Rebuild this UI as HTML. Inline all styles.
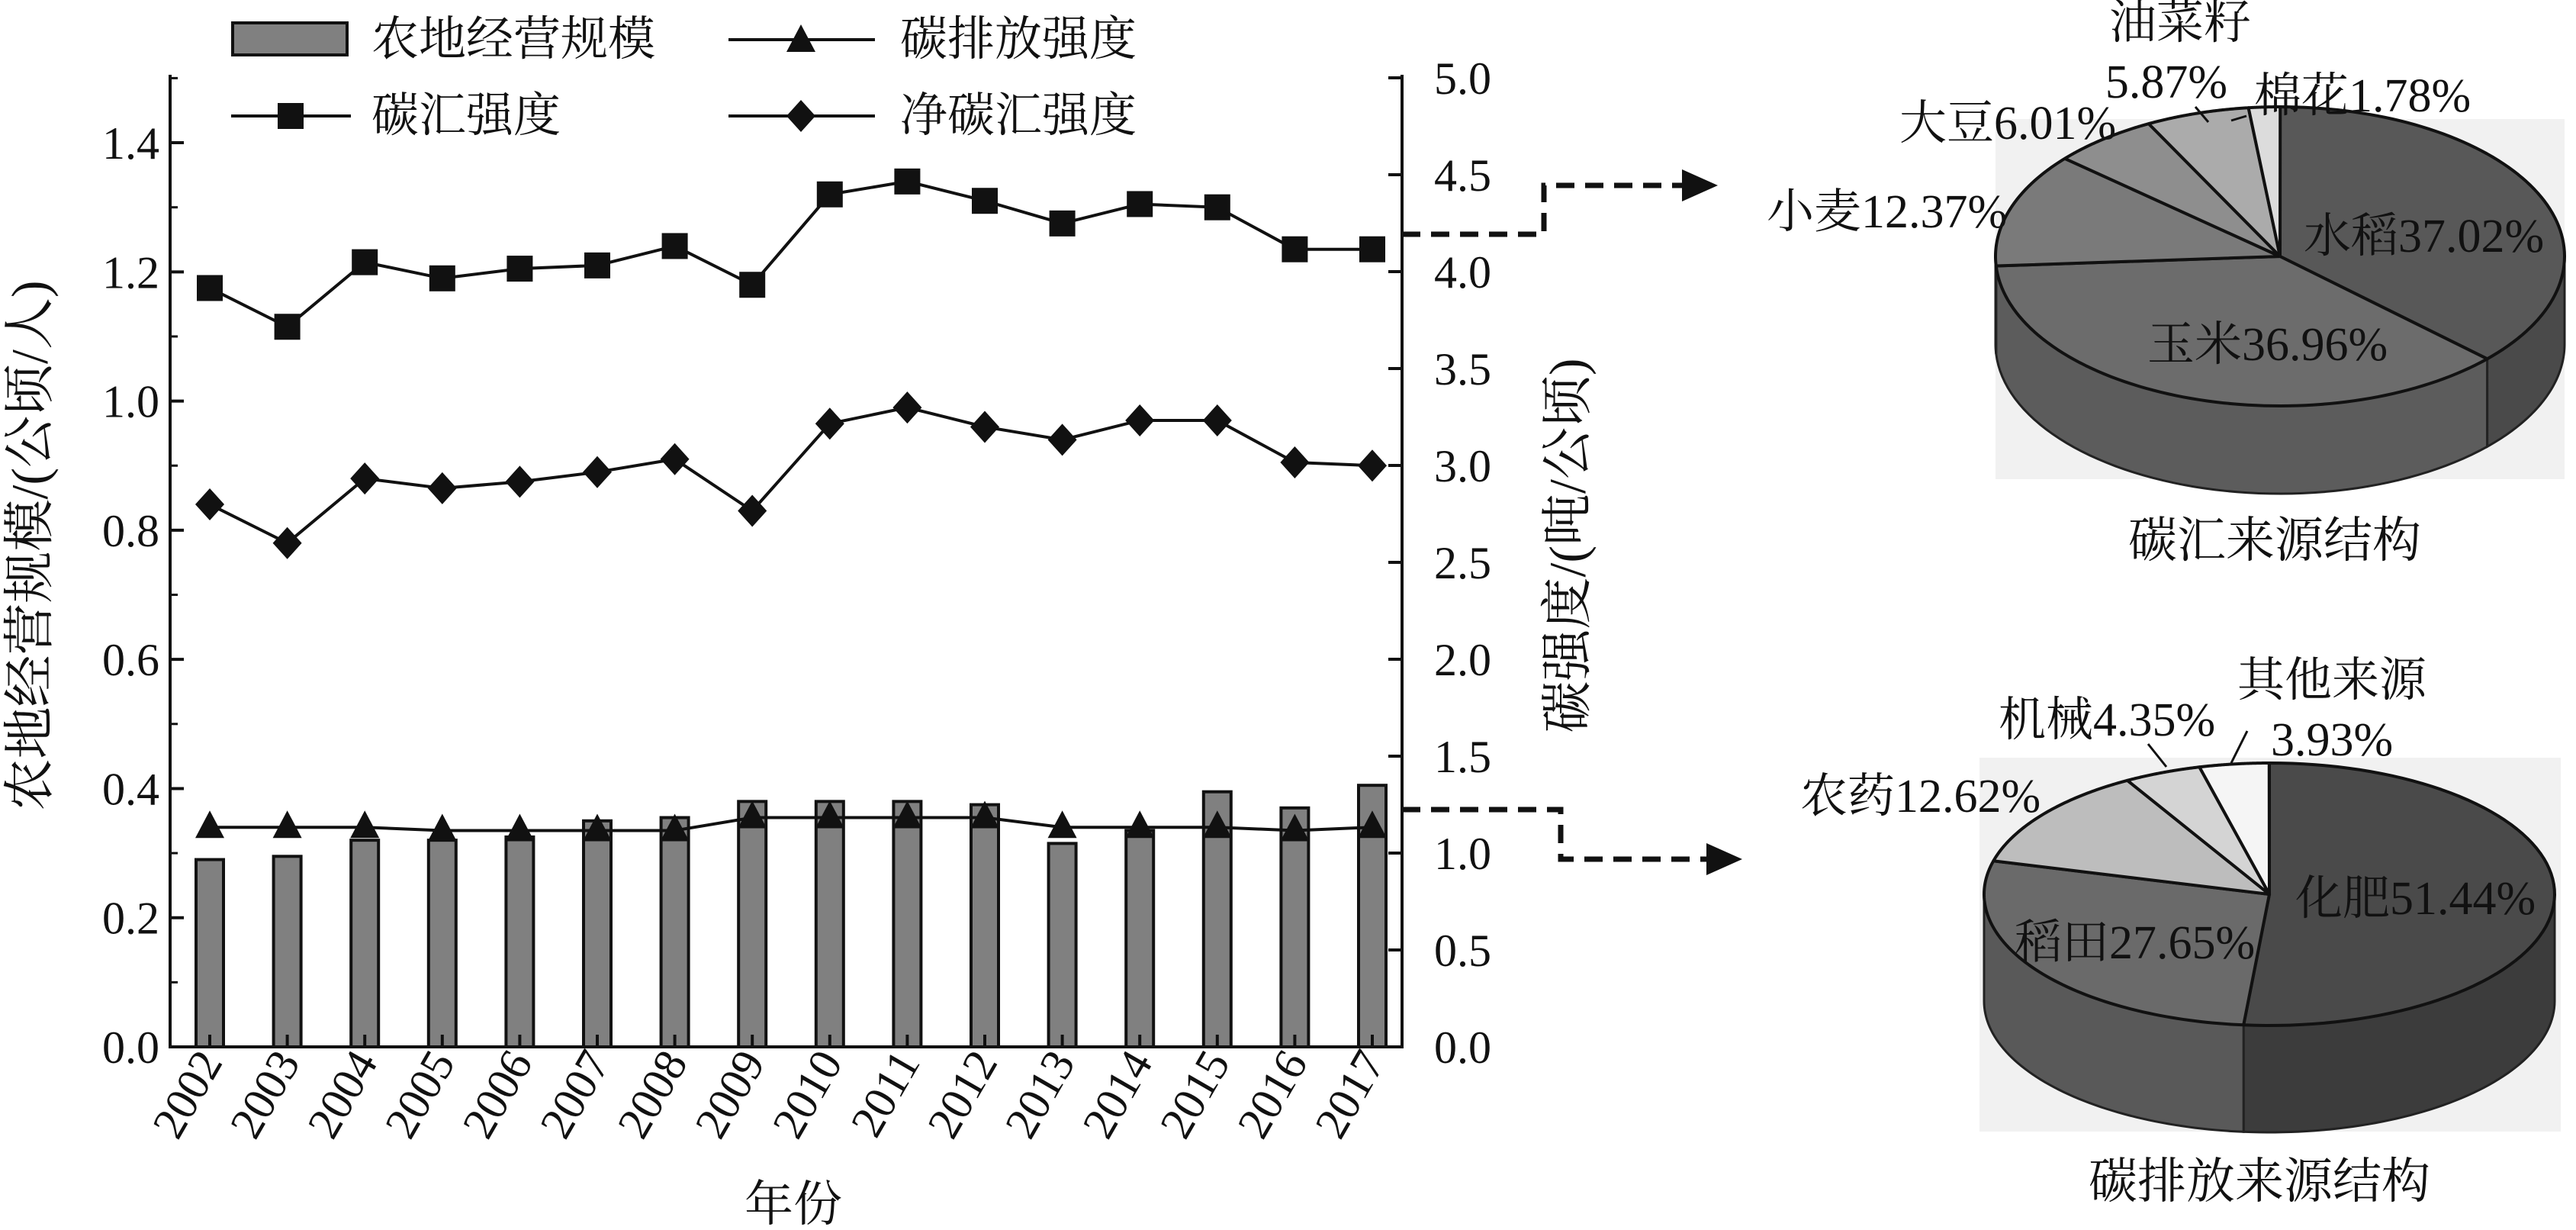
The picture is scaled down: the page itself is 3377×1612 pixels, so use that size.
<!DOCTYPE html>
<html><head><meta charset="utf-8"><style>
html,body{margin:0;padding:0;background:#fff}
svg{display:block}
text{font-family:"Liberation Serif","Noto Serif CJK SC","Noto Sans CJK SC",serif;fill:#111}
</style></head><body>
<svg id="s" width="3377" height="1612" viewBox="0 0 3377 1612" xmlns="http://www.w3.org/2000/svg">
<g id="chart"></g>
<g id="pies"></g>
<g font-size="62">
<text x="487" y="72">农地经营规模</text>
<text x="1180" y="72">碳排放强度</text>
<text x="487" y="172">碳汇强度</text>
<text x="1180" y="172">净碳汇强度</text>
<text x="1040" y="1600" text-anchor="middle" font-size="64">年份</text>
<text transform="translate(62,715) rotate(-90)" text-anchor="middle" font-size="68">农地经营规模/(公顷/人)</text>
<text transform="translate(2078,715) rotate(-90)" text-anchor="middle" font-size="68">碳强度/(吨/公顷)</text>
<text x="2858" y="50" text-anchor="middle">油菜籽</text>
<text x="2840" y="128" text-anchor="middle">5.87%</text>
<text x="2955" y="146">棉花1.78%</text>
<text x="2490" y="182">大豆6.01%</text>
<text x="2316" y="298">小麦12.37%</text>
<text x="3020" y="330">水稻37.02%</text>
<text x="2815" y="472">玉米36.96%</text>
<text x="2982" y="730" text-anchor="middle" font-size="64">碳汇来源结构</text>
<text x="2933" y="912">其他来源</text>
<text x="2977" y="990">3.93%</text>
<text x="2620" y="964">机械4.35%</text>
<text x="2360" y="1064">农药12.62%</text>
<text x="3009" y="1198">化肥51.44%</text>
<text x="2641" y="1256">稻田27.65%</text>
<text x="2962" y="1570" text-anchor="middle" font-size="64">碳排放来源结构</text>
</g>
</svg>
<script>
var NS="http://www.w3.org/2000/svg";
function el(p,t,a){var e=document.createElementNS(NS,t);for(var k in a)e.setAttribute(k,a[k]);p.appendChild(e);return e;}
var C=document.getElementById('chart');
var L=223,R=1838,Y0=1372,K=846.4;
function y(v){return Y0-v*K;}
function x(i){return 275+i*101.6;}
var bars=[0.29,0.295,0.32,0.32,0.325,0.35,0.355,0.38,0.38,0.38,0.375,0.315,0.335,0.395,0.37,0.405];
var sink=[1.175,1.115,1.215,1.19,1.205,1.21,1.24,1.18,1.32,1.34,1.31,1.275,1.305,1.30,1.235,1.235];
var net=[0.84,0.78,0.88,0.865,0.875,0.89,0.91,0.83,0.965,0.99,0.96,0.94,0.97,0.97,0.905,0.90];
var emi=[0.34,0.34,0.34,0.335,0.335,0.335,0.335,0.355,0.355,0.355,0.355,0.34,0.34,0.34,0.335,0.34];
bars.forEach(function(v,i){el(C,'rect',{x:x(i)-18,y:y(v),width:36,height:Y0-y(v),fill:'#808080',stroke:'#111','stroke-width':4});});
el(C,'line',{x1:L,y1:98,x2:L,y2:Y0+2,stroke:'#111','stroke-width':4});
el(C,'line',{x1:R,y1:98,x2:R,y2:Y0+2,stroke:'#111','stroke-width':4});
el(C,'line',{x1:L-2,y1:Y0,x2:R+2,y2:Y0,stroke:'#111','stroke-width':4});
for(var v=0;v<=1.41;v+=0.2){var yy=y(v);el(C,'line',{x1:L,y1:yy,x2:L+18,y2:yy,stroke:'#111','stroke-width':4});
 var t=el(C,'text',{x:L-14,y:yy+21,'text-anchor':'end','font-size':60});t.textContent=v.toFixed(1);}
for(var v=0.1;v<1.5;v+=0.2){var yy=y(v);el(C,'line',{x1:L,y1:yy,x2:L+10,y2:yy,stroke:'#111','stroke-width':3});}
for(var j=0;j<=10;j++){var rv=j*0.5;var yy=Y0-rv*(Y0-102)/5;el(C,'line',{x1:R-18,y1:yy,x2:R,y2:yy,stroke:'#111','stroke-width':4});
 var t=el(C,'text',{x:R+42,y:yy+21,'font-size':60});t.textContent=rv.toFixed(1);}
for(var i=0;i<16;i++){el(C,'line',{x1:x(i),y1:Y0,x2:x(i),y2:Y0-16,stroke:'#111','stroke-width':4});
 var t=el(C,'text',{transform:'translate('+(x(i)+18)+','+(Y0+20)+') rotate(-60)','text-anchor':'end','font-size':60});t.textContent=2002+i;}
function line(d){el(C,'polyline',{points:d.map(function(v,i){return x(i)+','+y(v)}).join(' '),fill:'none',stroke:'#111','stroke-width':4});}
line(sink);line(net);line(emi);
function sq(cx,cy){el(C,'rect',{x:cx-17,y:cy-17,width:34,height:34,fill:'#111'});}
function di(cx,cy){el(C,'polygon',{points:(cx)+','+(cy-21)+' '+(cx+19)+','+cy+' '+cx+','+(cy+21)+' '+(cx-19)+','+cy,fill:'#111'});}
function tr(cx,cy){el(C,'polygon',{points:cx+','+(cy-22)+' '+(cx+19)+','+(cy+14)+' '+(cx-19)+','+(cy+14),fill:'#111'});}
sink.forEach(function(v,i){sq(x(i),y(v));});
net.forEach(function(v,i){di(x(i),y(v));});
emi.forEach(function(v,i){tr(x(i),y(v));});
el(C,'rect',{x:305,y:30,width:150,height:42,fill:'#808080',stroke:'#111','stroke-width':4});
el(C,'line',{x1:955,y1:52,x2:1147,y2:52,stroke:'#111','stroke-width':4});tr(1050,54);
el(C,'line',{x1:303,y1:152,x2:460,y2:152,stroke:'#111','stroke-width':4});sq(381,152);
el(C,'line',{x1:955,y1:152,x2:1147,y2:152,stroke:'#111','stroke-width':4});di(1050,152);
el(C,'polyline',{points:'1838,307 2024,307 2024,243 2215,243',fill:'none',stroke:'#111','stroke-width':7,'stroke-dasharray':'24,14'});
el(C,'polygon',{points:'2205,222 2252,243 2205,264',fill:'#111'});
el(C,'polyline',{points:'1838,1061 2046,1061 2046,1126 2245,1126',fill:'none',stroke:'#111','stroke-width':7,'stroke-dasharray':'24,14'});
el(C,'polygon',{points:'2237,1105 2284,1126 2237,1147',fill:'#111'});
var P=document.getElementById('pies');
function pie(cx,cy,rx,ry,dep,sl,bg){
 el(P,'rect',{x:bg[0],y:bg[1],width:bg[2],height:bg[3],fill:'#f1f1f1'});
 function pt(a,dy){var r=a*Math.PI/180;return [cx+rx*Math.sin(r),cy-ry*Math.cos(r)+(dy||0)];}
 var a=0,angs=[];
 sl.forEach(function(s){angs.push([a,a+s[0]*3.6]);a+=s[0]*3.6;});
 sl.forEach(function(s,k){var a0=Math.max(angs[k][0],90),a1=Math.min(angs[k][1],270);if(a1<=a0)return;
  var pts=[],st=(a1-a0)/60;for(var q=a0;q<=a1+1e-6;q+=st)pts.push(pt(q));
  for(var q=a1;q>=a0-1e-6;q-=st)pts.push(pt(q,dep));
  el(P,'polygon',{points:pts.map(function(p){return p.join(',')}).join(' '),fill:s[2],stroke:'#222','stroke-width':3});});
 sl.forEach(function(s,k){var a0=angs[k][0],a1=angs[k][1];var pts=[[cx,cy]],st=(a1-a0)/80;
  for(var q=a0;q<=a1+1e-6;q+=st)pts.push(pt(q));
  el(P,'polygon',{points:pts.map(function(p){return p.join(',')}).join(' '),fill:s[1],stroke:'#111','stroke-width':4,'stroke-linejoin':'round'});});
}
pie(2989,336,373,196,115,[[37.02,'#585858','#4a4a4a'],[36.96,'#6c6c6c','#5c5c5c'],[12.37,'#7a7a7a','#666'],[6.01,'#8e8e8e','#777'],[5.87,'#ababab','#999'],[1.78,'#dcdcdc','#bbb']],[2616,156,746,472]);
pie(2975,1172,374,172,140,[[51.44,'#4a4a4a','#3c3c3c'],[27.65,'#6a6a6a','#595959'],[12.62,'#bdbdbd','#999'],[4.35,'#d4d4d4','#aaa'],[3.93,'#f5f5f5','#ccc']],[2595,993,762,490]);
el(P,'line',{x1:2878,y1:140,x2:2895,y2:160,stroke:'#111','stroke-width':3});
el(P,'line',{x1:2945,y1:152,x2:2925,y2:158,stroke:'#111','stroke-width':3});
el(P,'line',{x1:2816,y1:975,x2:2840,y2:1005,stroke:'#111','stroke-width':3});
el(P,'line',{x1:2946,y1:958,x2:2925,y2:1000,stroke:'#111','stroke-width':3});
</script>
</body></html>
